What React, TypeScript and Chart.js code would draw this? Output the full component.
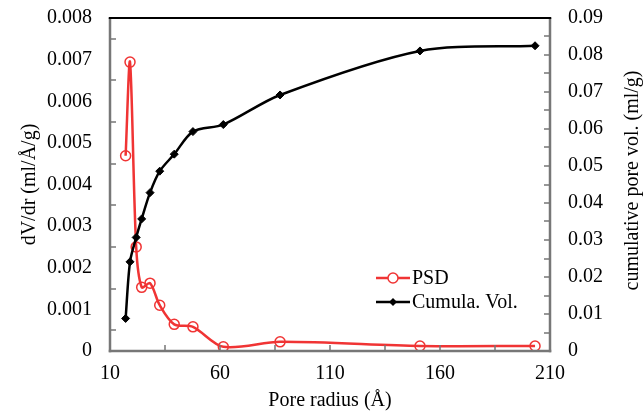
import React, { useEffect, useRef } from "react";
import { Chart, registerables } from "chart.js";

Chart.register(...registerables);

// ---- data ----
const poreRadius = [17.1, 19.1, 21.9, 24.4, 28.2, 32.6, 39.2, 47.7, 61.5, 87.3, 150.9, 203.2];
const psd = [0.00469, 0.00694, 0.0025, 0.00153, 0.00163, 0.0011, 0.00064, 0.00058, 0.0001, 0.00022, 0.00012, 0.00012];
const cumVol = [0.0088, 0.0241, 0.0307, 0.0357, 0.0428, 0.0486, 0.0532, 0.0593, 0.0612, 0.0692, 0.0811, 0.0825];

const xRange = [10, 210];
const leftRange = [0, 0.008];
const rightRange = [0, 0.09];
const xMinorTicks = [35, 60, 85, 110, 135, 160, 185];
const leftMinorTicks = [0.0005, 0.0015, 0.0025, 0.0035, 0.0045, 0.0055, 0.0065, 0.0075];
const rightMinorTicks = [0.005, 0.01, 0.015, 0.02, 0.025, 0.03, 0.035, 0.04, 0.045, 0.05, 0.055, 0.06, 0.065, 0.07, 0.075, 0.08, 0.085];

const seriesNames = ["PSD", "Cumula. Vol."];
const xTitle = "Pore radius (Å)";
const leftTitle = "dV/dr (ml/Å/g)";
const rightTitle = "cumulative pore vol. (ml/g)";

const FONT = "'Liberation Serif', 'Times New Roman', serif";
const RED = "#f03434";
const BLACK = "#000000";
const AXIS_GRAY = "#777777";

const framePlugin = {
  id: "frameAndLegend",
  afterDraw(chart: any) {
    const ctx: CanvasRenderingContext2D = chart.ctx;
    const area = chart.chartArea;
    const L = area.left;
    const R = area.right;
    const T = area.top;
    const B = area.bottom;
    const xs = chart.scales.x;
    const ys = chart.scales.y;
    const y1s = chart.scales.y1;

    ctx.save();
    ctx.fillStyle = AXIS_GRAY;
    ctx.fillRect(L - 1.25, T, 2.5, B - T + 1.25);
    ctx.fillRect(L - 1.25, B - 1.25, R - L + 2.5, 2.5);
    ctx.fillRect(R - 1.25, T, 2.5, B - T + 1.25);
    for (const v of xMinorTicks) {
      const px = Math.round(xs.getPixelForValue(v));
      ctx.fillRect(px - 0.75, B - 6, 1.5, 6);
    }
    for (const v of leftMinorTicks) {
      const py = Math.round(ys.getPixelForValue(v));
      ctx.fillRect(L, py - 0.75, 6, 1.5);
    }
    for (const v of rightMinorTicks) {
      const py = Math.round(y1s.getPixelForValue(v));
      ctx.fillRect(R - 6, py - 0.75, 6, 1.5);
    }
    ctx.fillStyle = BLACK;
    ctx.fillRect(L - 1.25, T - 1, R - L + 2.5, 2);
    ctx.restore();

    ctx.save();
    ctx.font = `20px ${FONT}`;
    ctx.fillStyle = BLACK;
    ctx.textAlign = "center";
    ctx.textBaseline = "middle";
    ctx.translate(chart.width - 10, (T + B) / 2 - 4);
    ctx.rotate(-Math.PI / 2);
    ctx.fillText(rightTitle, 0, 0);
    ctx.restore();

    const lx = L + 266;
    const rows = [
      { name: seriesNames[0], color: RED, y: T + 260, style: "circle" },
      { name: seriesNames[1], color: BLACK, y: T + 284, style: "diamond" },
    ];
    ctx.save();
    ctx.font = `20px ${FONT}`;
    ctx.textAlign = "left";
    ctx.textBaseline = "middle";
    for (const r of rows) {
      ctx.strokeStyle = r.color;
      ctx.lineWidth = 2.5;
      ctx.beginPath();
      ctx.moveTo(lx, r.y);
      ctx.lineTo(lx + 34, r.y);
      ctx.stroke();
      const cx = lx + 17;
      if (r.style === "circle") {
        ctx.fillStyle = "#ffffff";
        ctx.lineWidth = 1.5;
        ctx.beginPath();
        ctx.arc(cx, r.y, 5, 0, Math.PI * 2);
        ctx.fill();
        ctx.stroke();
      } else {
        ctx.fillStyle = r.color;
        ctx.beginPath();
        ctx.moveTo(cx, r.y - 4);
        ctx.lineTo(cx + 4, r.y);
        ctx.lineTo(cx, r.y + 4);
        ctx.lineTo(cx - 4, r.y);
        ctx.closePath();
        ctx.fill();
      }
      ctx.fillStyle = BLACK;
      ctx.fillText(r.name, lx + 36, r.y + 1);
    }
    ctx.restore();
  },
};

export default function App() {
  const canvasRef = useRef<HTMLCanvasElement | null>(null);

  useEffect(() => {
    if (!canvasRef.current) return;
    const tickFont = { family: FONT, size: 20 };
    const chart = new Chart(canvasRef.current, {
      type: "line",
      data: {
        datasets: [
          {
            label: seriesNames[0],
            data: poreRadius.map((r, i) => ({ x: r, y: psd[i] })),
            yAxisID: "y",
            borderColor: RED,
            borderWidth: 2.5,
            pointStyle: "circle",
            pointRadius: 5,
            pointBorderWidth: 1.5,
            pointBorderColor: RED,
            pointBackgroundColor: "rgba(255,255,255,0)",
            tension: 0.3,
            order: 2,
          },
          {
            label: seriesNames[1],
            data: poreRadius.map((r, i) => ({ x: r, y: cumVol[i] })),
            yAxisID: "y1",
            borderColor: BLACK,
            borderWidth: 2.5,
            pointStyle: "rectRot",
            pointRadius: 4,
            pointBorderWidth: 1,
            pointBorderColor: BLACK,
            pointBackgroundColor: BLACK,
            tension: 0.3,
            order: 1,
          },
        ],
      },
      options: {
        animation: false,
        responsive: false,
        layout: { padding: { top: 18, right: 0, left: 0, bottom: 0 } },
        plugins: {
          legend: { display: false },
          tooltip: { enabled: false },
        },
        scales: {
          x: {
            type: "linear",
            position: "bottom",
            min: xRange[0],
            max: xRange[1],
            grid: { display: false, drawTicks: false },
            border: { display: false },
            ticks: {
              stepSize: 50,
              font: tickFont,
              color: BLACK,
              padding: 11,
              maxRotation: 0,
            },
            title: {
              display: true,
              text: xTitle,
              font: tickFont,
              color: BLACK,
              padding: { top: 0, bottom: 0 },
            },
            afterFit(scale: any) {
              scale.height = 62;
            },
          },
          y: {
            type: "linear",
            position: "left",
            min: leftRange[0],
            max: leftRange[1],
            grid: { display: false, drawTicks: false },
            border: { display: false },
            ticks: {
              stepSize: 0.001,
              font: tickFont,
              color: BLACK,
              padding: 18,
              callback: (v: any) => (Number(v) === 0 ? "0" : Number(v).toFixed(3)),
            },
            title: {
              display: true,
              text: leftTitle,
              font: tickFont,
              color: BLACK,
              padding: { top: 18, bottom: 18 },
            },
            afterFit(scale: any) {
              scale.width = 110;
              scale.paddingTop = 4;
              scale.paddingBottom = 4;
            },
          },
          y1: {
            type: "linear",
            position: "right",
            min: rightRange[0],
            max: rightRange[1],
            grid: { display: false, drawTicks: false },
            border: { display: false },
            ticks: {
              stepSize: 0.01,
              font: tickFont,
              color: BLACK,
              padding: 18,
              callback: (v: any) => (Number(v) === 0 ? "0" : Number(v).toFixed(2)),
            },
            afterFit(scale: any) {
              scale.width = 93;
              scale.paddingTop = 4;
              scale.paddingBottom = 4;
            },
          },
        },
      },
      plugins: [framePlugin],
    });
    return () => chart.destroy();
  }, []);

  return (
    <div style={{ position: "absolute", left: 0, top: 0, width: 643, height: 413 }}>
      <canvas ref={canvasRef} width={643} height={413} style={{ display: "block" }} />
    </div>
  );
}
